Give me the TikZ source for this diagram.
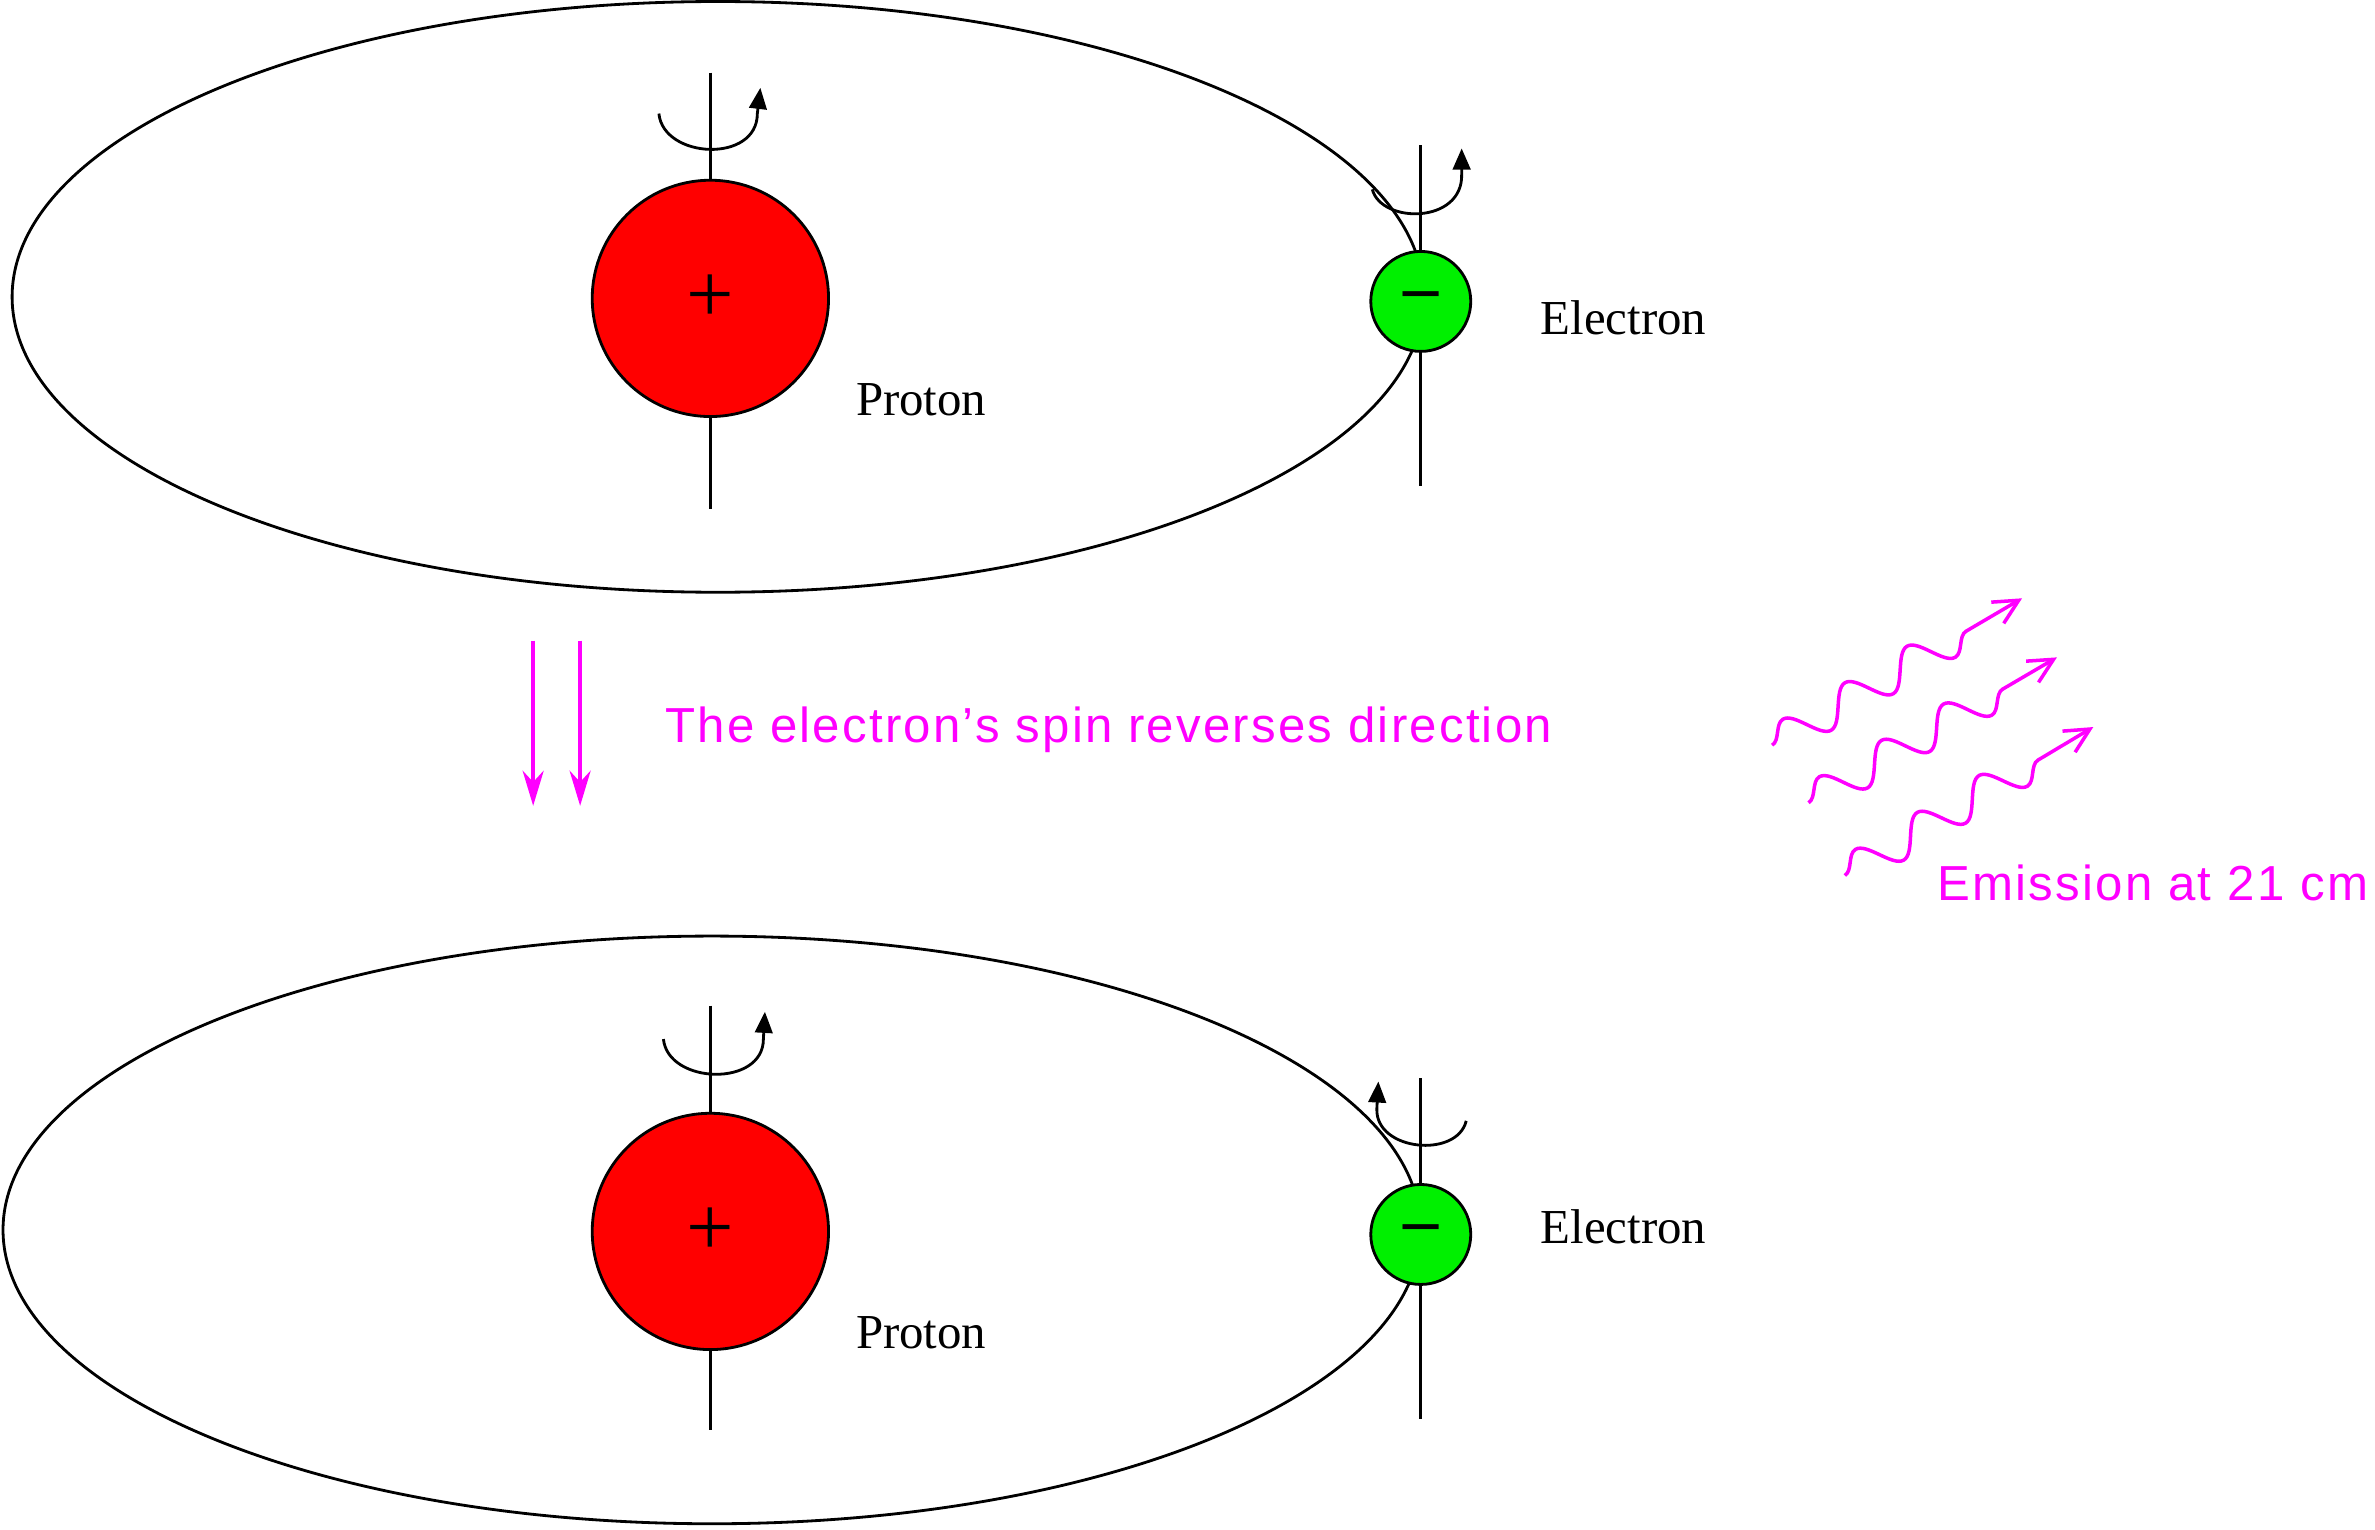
\documentclass[tikz,border=0pt]{standalone}
\usepackage{fontspec}
\setmainfont{Liberation Serif}
\setsansfont[LetterSpace=4.5]{Liberation Sans}
\usetikzlibrary{decorations.pathmorphing,arrows.meta}
\definecolor{mag}{RGB}{255,0,255}
\definecolor{pred}{RGB}{255,0,0}
\definecolor{egreen}{RGB}{0,240,0}
\begin{document}
\begin{tikzpicture}[x=0.015147cm,y=-0.015147cm,
  orbit/.style={draw,line width=0.8pt},
  axis/.style={line width=0.8pt},
  proton/.style={circle,draw,line width=0.8pt,fill=pred,minimum size=156*0.015147cm,inner sep=0pt,font=\fontsize{24}{24}\selectfont},
  electron/.style={circle,draw,line width=0.8pt,fill=egreen,minimum size=66*0.015147cm,inner sep=0pt,font=\fontsize{20}{20}\selectfont\bfseries},
  lab/.style={font=\fontsize{13.9}{15}\selectfont},
  mlab/.style={text=mag,font=\sffamily\fontsize{14}{16}\selectfont},
  spin/.style={line width=0.8pt,-{Triangle[length=6pt,width=5pt]}},
  marr/.style={draw=mag,line width=1pt,-{Stealth[length=10pt,width=6pt]}},
  wave/.style={draw=mag,line width=1pt,decorate,decoration={snake,amplitude=1.7mm,segment length=7.2mm,post length=3mm,pre length=0mm},-{Straight Barb[length=7pt,width=7pt]}}]
\useasboundingbox (0,0) rectangle (1568,1010);
% top
\draw[orbit] (474,196) ellipse [x radius=466, y radius=195];
\coordinate (pa1) at (469,48); \coordinate (pa2) at (469,336);
\draw[axis] (pa1) -- (pa2);
\node[proton] (p1) at (469,197) {+};
\draw[spin] (435,75) .. controls (438,105) and (500,108) .. (500,75) -- (502,58);
\coordinate (ea1) at (938,96); \coordinate (ea2) at (938,321);
\draw[axis] (ea1) -- (ea2);
\node[electron] (e1) at (938,199) {--};
\draw[spin] (906,125) .. controls (912,148) and (966,148) .. (965,115) -- (965,98);
\node[lab,anchor=west] (pl1) at (557,264) {Proton};
\node[lab,anchor=west] (el1) at (1009,210) {Electron};
% middle
\coordinate (a1) at (352,423); \coordinate (a2) at (352,532);
\coordinate (b1) at (383,423); \coordinate (b2) at (383,532);
\draw[marr] (a1) -- (a2);
\draw[marr] (b1) -- (b2);
\node[mlab,anchor=west] (t1) at (431,482) {The electron’s spin reverses direction};
\coordinate (w1s) at (1170,492); \coordinate (w1e) at (1335,395);
\coordinate (w2s) at (1194,530); \coordinate (w2e) at (1358,434);
\coordinate (w3s) at (1218,578); \coordinate (w3e) at (1382,480);
\draw[wave] (w1s) -- (w1e);
\draw[wave] (w2s) -- (w2e);
\draw[wave] (w3s) -- (w3e);
\node[mlab,anchor=west] (t2) at (1271,583) {Emission at 21 cm};
% bottom
\draw[orbit] (470,812) ellipse [x radius=468, y radius=194];
\coordinate (pb1) at (469,664); \coordinate (pb2) at (469,944);
\draw[axis] (pb1) -- (pb2);
\node[proton] (p2) at (469,813) {+};
\draw[spin] (438,686) .. controls (441,716) and (504,718) .. (504,686) -- (505,668);
\coordinate (eb1) at (938,712); \coordinate (eb2) at (938,937);
\draw[axis] (eb1) -- (eb2);
\node[electron] (e2) at (938,815) {--};
\draw[spin] (968,740) .. controls (962,765) and (908,760) .. (909,732) -- (910,714);
\node[lab,anchor=west] (pl2) at (557,880) {Proton};
\node[lab,anchor=west] (el2) at (1009,810) {Electron};
\end{tikzpicture}
\end{document}
